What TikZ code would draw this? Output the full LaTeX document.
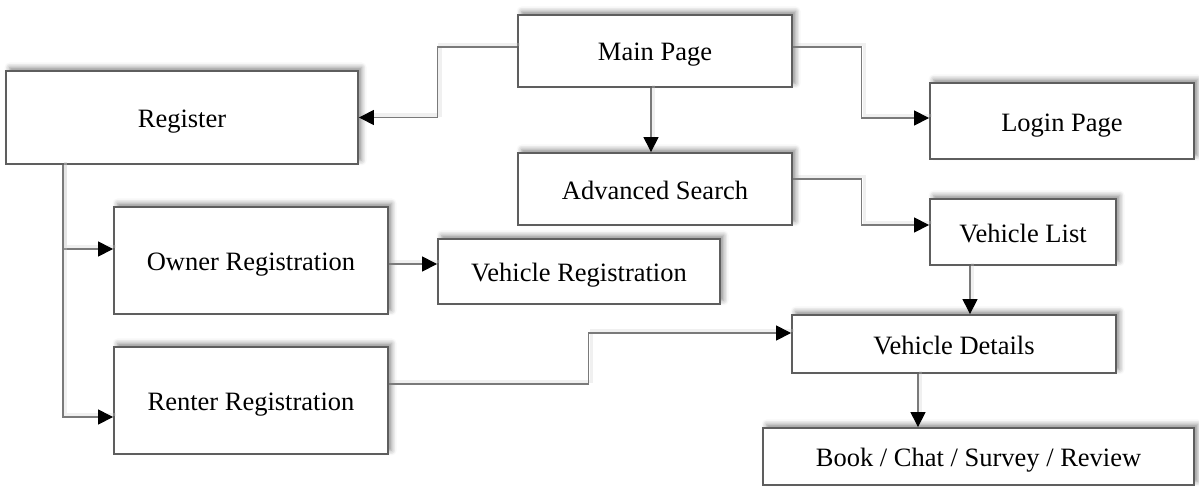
\documentclass[tikz,border=0pt]{standalone}
\usepackage{fontspec}
\setmainfont{Liberation Serif}
\usetikzlibrary{arrows.meta,shadows.blur,calc}
\definecolor{boxline}{HTML}{5E5E5E}
\definecolor{connline}{HTML}{7A7A7A}
\tikzset{
  box/.style={draw=boxline, line width=0.9pt, fill=white, inner sep=0pt,
    font=\fontsize{13.25}{15}\selectfont, text height=11pt, text depth=1pt,
    blur shadow={shadow xshift=1.8pt, shadow yshift=1.8pt, shadow blur radius=2.5pt, shadow opacity=45}},
  conn/.style={draw=connline, line width=0.55pt,
    -{Triangle[length=7.5pt,width=7.5pt,black]},
    preaction={draw=black!20, line width=1.8pt, opacity=0.3, arrows=-,
      transform canvas={xshift=1.3pt,yshift=1.3pt}}},
}
\begin{document}
\begin{tikzpicture}[x=0.5pt,y=-0.5pt]
\useasboundingbox (0,0) rectangle (1199,487);
% boxes
\node[box, minimum width=137pt, minimum height=36pt] (main) at (655,51) {Main Page};
\node[box, minimum width=176pt, minimum height=46.5pt] (reg) at (182,117.5) {Register};
\node[box, minimum width=132pt, minimum height=38pt] (login) at (1062,121) {Login Page};
\node[box, minimum width=137pt, minimum height=36pt] (adv) at (655,189) {Advanced Search};
\node[box, minimum width=93pt, minimum height=33pt] (vlist) at (1023,232) {Vehicle List};
\node[box, minimum width=137pt, minimum height=53.5pt] (owner) at (251,260.5) {Owner Registration};
\node[box, minimum width=141pt, minimum height=32.5pt] (vreg) at (579,271.5) {Vehicle Registration};
\node[box, minimum width=137pt, minimum height=53.5pt] (renter) at (251,400.5) {Renter Registration};
\node[box, minimum width=162pt, minimum height=29pt] (vdet) at (954,344) {Vehicle Details};
\node[box, minimum width=215.5pt, minimum height=28.5pt] (book) at (978.5,456.5) {Book / Chat / Survey / Review};
% connectors
\draw[conn] ([yshift=2pt]main.west) -- ++(-80,0) |- (reg.east);
\draw[conn] ([yshift=2pt]main.east) -- ++(69,0) |- ([yshift=1.5pt]login.west);
\draw[conn] ([xshift=-2pt]main.south) -- ([xshift=-2pt]adv.north);
\draw[conn] ([yshift=5pt]adv.east) -- ++(69,0) |- ([yshift=3.5pt]vlist.west);
\draw[conn] ([xshift=-26.5pt]vlist.south) -- ([xshift=-26.5pt]vlist.south |- vdet.north);
\draw[conn] ([xshift=-18pt]vdet.south) -- ([xshift=-18pt]vdet.south |- book.north);
\draw[conn] ([xshift=-59.5pt]reg.south) |- ([yshift=5.75pt]owner.west);
\draw[conn] ([xshift=-59.5pt]reg.south) |- ([yshift=-8.25pt]renter.west);
\draw[conn] ([yshift=-1.75pt]owner.east) -- ([yshift=-1.75pt]owner.east -| vreg.west);
\draw[conn] ([yshift=8.25pt]renter.east) -- ++(200,0) |- ([yshift=5.5pt]vdet.west);
\end{tikzpicture}
\end{document}
